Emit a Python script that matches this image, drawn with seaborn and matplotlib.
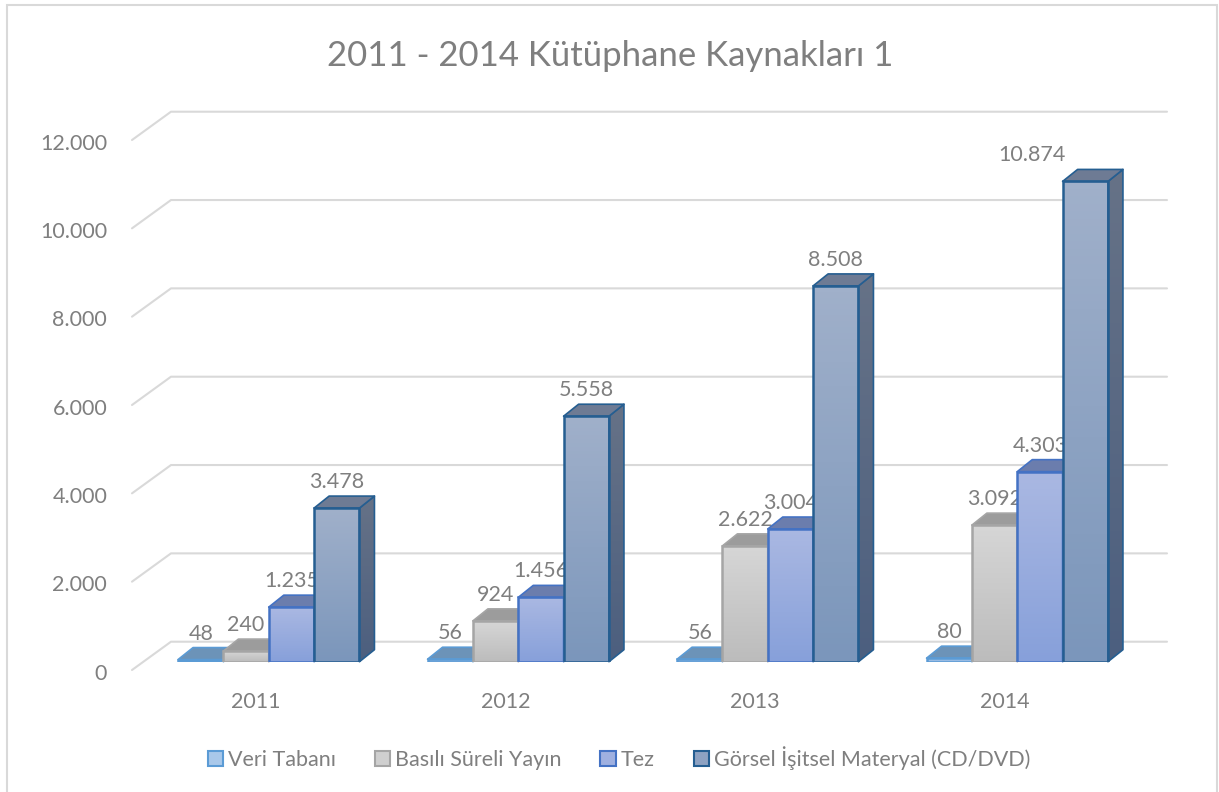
import numpy as np
import pandas as pd
import matplotlib
matplotlib.use("Agg")
import matplotlib.pyplot as plt
from matplotlib.colors import LinearSegmentedColormap
from matplotlib.patches import Polygon, Patch, Rectangle
from matplotlib.transforms import Affine2D
import seaborn as sns

years = ["2011", "2012", "2013", "2014"]
series_names = ["Veri Tabanı", "Basılı Süreli Yayın", "Tez", "Görsel İşitsel Materyal (CD/DVD)"]
veri_tabani = [48, 56, 56, 80]
basili = [240, 924, 2622, 3092]
tez = [1235, 1456, 3004, 4303]
gorsel = [3478, 5558, 8508, 10874]
all_values = [veri_tabani, basili, tez, gorsel]
y_ticks = [0, 2000, 4000, 6000, 8000, 10000, 12000]
title = "2011 - 2014 Kütüphane Kaynakları 1"

edge_colors = ["#5b9bd5", "#a5a5a5", "#4472c4", "#255e91"]
front_top = ["#a9c8ea", "#d6d6d6", "#aab8e2", "#a0b0ca"]
front_bot = ["#8fb4e0", "#bcbcbc", "#87a0da", "#7b96bb"]
side_top = ["#6f8fb0", "#8f8f8f", "#6a7cab", "#667287"]
side_bot = ["#4d7aa8", "#7f7f7f", "#4f6cae", "#4c5f7f"]
top_face = ["#6c93b8", "#9c9c9c", "#6b7dad", "#6e7b94"]
text_color = "#7f7f7f"
grid_color = "#d9d9d9"
fs = 15.5

W, H = 1219, 792
sns.set_style("white")
plt.rcParams["font.family"] = ["Lato", "DejaVu Sans"]

df = pd.DataFrame({
    "year": np.repeat(years, len(series_names)),
    "series": series_names * len(years),
    "value": [all_values[s][y] for y in range(len(years)) for s in range(len(series_names))],
})

fig = plt.figure(figsize=(W / 100, H / 100), dpi=100)
# bar plane in pixels
left, right, y0_px, y12_px = 144.0, 1142.0, 661.7, 131.7
ax = fig.add_axes([left / W, 1 - y0_px / H, (right - left) / W, (y0_px - y12_px) / H])
sns.barplot(data=df, x="year", y="value", hue="series", hue_order=series_names,
            order=years, palette=edge_colors, width=0.727, gap=0, dodge=True, ax=ax, legend=False)
ax.set_xlim(-0.5, 3.5)
ax.set_ylim(0, 12000)
ax.set_xlabel("")
ax.set_ylabel("")
for s in ax.spines.values():
    s.set_visible(False)
ax.patch.set_alpha(0)

px_x = 4 / (right - left)
px_y = 12000 / (y0_px - y12_px)
dx, dy = 15 * px_x, 12 * px_y

# gridlines: slanted floor edge + back wall line
x_front = -0.5 + (132 - left) * px_x
x_back = -0.5 + (171 - left) * px_x
x_end = -0.5 + (1167 - left) * px_x
back_dy, front_dy = 20 * px_y, -8.3 * px_y
for t in y_ticks:
    ax.plot([x_front, x_back, x_end], [t + front_dy, t + back_dy, t + back_dy],
            color=grid_color, lw=1.5, clip_on=False, zorder=1, solid_joinstyle="round")

ax.set_yticks(y_ticks)
ax.set_yticklabels([f"{t:,}".replace(",", ".") for t in y_ticks])
ax.tick_params(axis="both", length=0, labelcolor=text_color, labelsize=fs)
for lab in ax.get_yticklabels():
    lab.set_transform(lab.get_transform() + Affine2D().translate(-32, -10))
for lab in ax.get_xticklabels():
    lab.set_transform(lab.get_transform() + Affine2D().translate(-12.5, -25))

label_dx = {(3, 3): -53}
for s, cont in enumerate(ax.containers):
    z = 3 + s
    for y, bar in enumerate(cont):
        x0, w, h = bar.get_x(), bar.get_width(), bar.get_height()
        x1 = x0 + w
        cmap_f = LinearSegmentedColormap.from_list("f", [front_top[s], front_bot[s]])
        cmap_s = LinearSegmentedColormap.from_list("s", [side_top[s], side_bot[s]])
        grad = np.linspace(0, 1, 64)[:, None]
        ax.imshow(grad, cmap=cmap_f, extent=(x0, x1, 0, h), aspect="auto", zorder=z + 0.2, origin="upper")
        side = Polygon([(x1, 0), (x1 + dx, dy), (x1 + dx, h + dy), (x1, h)], closed=True,
                       facecolor="none", edgecolor=edge_colors[s], lw=1.2, zorder=z + 0.3, joinstyle="round", clip_on=False)
        ax.add_patch(side)
        im = ax.imshow(grad, cmap=cmap_s, extent=(x1, x1 + dx, 0, h + dy), aspect="auto", zorder=z + 0.1, origin="upper", clip_on=True)
        im.set_clip_path(side)
        ax.add_patch(Polygon([(x0, h), (x0 + dx, h + dy), (x1 + dx, h + dy), (x1, h)], closed=True,
                             facecolor=top_face[s], edgecolor=edge_colors[s], lw=1.2, zorder=z + 0.3,
                             joinstyle="round", clip_on=False))
        bar.set_facecolor("none")
        bar.set_edgecolor(edge_colors[s])
        bar.set_linewidth(1.8)
        bar.set_zorder(z + 0.4)
        ax.text(x0 + w / 2 + label_dx.get((y, s), 0) * px_x, h + 26 * px_y,
                f"{all_values[s][y]:,}".replace(",", "."), ha="center", va="center",
                color=text_color, fontsize=fs, zorder=z - 0.5)
ax.set_xlim(-0.5, 3.5)
ax.set_ylim(0, 12000)

fig.text(610 / W, 1 - 55.5 / H, title, ha="center", va="center", color=text_color, fontsize=25)

handles = [Patch(facecolor=f, edgecolor=e, lw=1.5) for f, e in zip(
    ["#a9c8ea", "#cfcfcf", "#9fb0e0", "#8ea2c2"], edge_colors)]
fig.legend(handles, series_names, ncol=4, loc="center", bbox_to_anchor=(619 / W, 1 - 758 / H),
           frameon=False, fontsize=fs, labelcolor=text_color, handlelength=0.7, handleheight=0.7,
           handletextpad=0.25, columnspacing=1.8)

fig.add_artist(Rectangle((7 / W, -10 / H), 1210 / W, (10 + 787) / H, transform=fig.transFigure,
                         facecolor="none", edgecolor="#d9d9d9", lw=1.5, clip_on=False))
fig.savefig("out.png", dpi=100, facecolor="white")
